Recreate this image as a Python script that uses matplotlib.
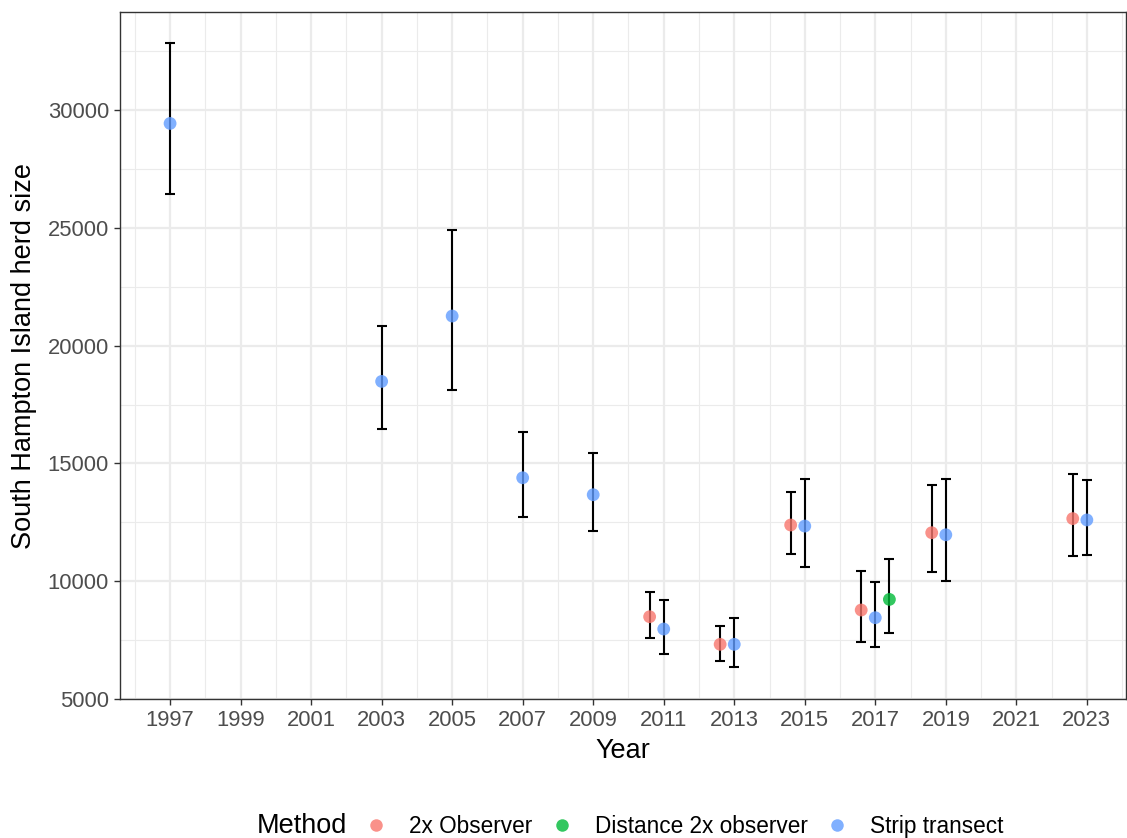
import matplotlib.pyplot as plt
import numpy as np
from matplotlib.lines import Line2D
from matplotlib.ticker import MultipleLocator

plt.rcParams['font.family'] = ['Liberation Sans', 'DejaVu Sans']

# Strip transect surveys
strip_years = [1997, 2003, 2005, 2007, 2009, 2011, 2013, 2015, 2017, 2019, 2023]
strip_est = [29430, 18480, 21255, 14390, 13670, 7970, 7320, 12340, 8450, 11970, 12600]
strip_low = [26420, 16446, 18127, 12711, 12117, 6897, 6358, 10615, 7220, 10008, 11111]
strip_high = [32829, 20818, 24917, 16344, 15453, 9202, 8438, 14350, 9952, 14337, 14282]

# 2x observer surveys
obs_years = [2011, 2013, 2015, 2017, 2019, 2023]
obs_est = [8493, 7321, 12385, 8777, 12058, 12657]
obs_low = [7576, 6625, 11167, 7406, 10390, 11082]
obs_high = [9528, 8098, 13773, 10445, 14069, 14536]

# Distance 2x observer
dist_years = [2017]
dist_est = [9227]
dist_low = [7788]
dist_high = [10942]

methods = ["2x Observer", "Distance 2x observer", "Strip transect"]
colors = {"2x Observer": "#F8766D", "Distance 2x observer": "#00BA38", "Strip transect": "#619CFF"}
dodge = {"2x Observer": -0.4, "Distance 2x observer": 0.4, "Strip transect": 0.0}

series = {
    "2x Observer": (obs_years, obs_est, obs_low, obs_high),
    "Distance 2x observer": (dist_years, dist_est, dist_low, dist_high),
    "Strip transect": (strip_years, strip_est, strip_low, strip_high),
}

W, H = 1127, 838
fig = plt.figure(figsize=(W / 100, H / 100), dpi=100)
ax = fig.add_axes([120 / W, 1 - 699 / H, (1126 - 120) / W, (699 - 12) / H])

for m in methods:
    yrs, est, lo, hi = series[m]
    x = np.array(yrs) + dodge[m]
    est = np.array(est)
    yerr = [est - np.array(lo), np.array(hi) - est]
    ax.errorbar(x, est, yerr=yerr, fmt='none', ecolor='black', elinewidth=1.5,
                capsize=3.4, capthick=1.5, zorder=3)
    ax.scatter(x, est, s=85, color=colors[m], alpha=0.8, edgecolors='none', zorder=4)

ax.set_xlim(1995.58, 2024.11)
ax.set_ylim(5000, 34160)
ax.set_xticks(np.arange(1997, 2024, 2))
ax.xaxis.set_minor_locator(MultipleLocator(1))
ax.set_yticks(np.arange(5000, 30001, 5000))
ax.yaxis.set_minor_locator(MultipleLocator(2500))

ax.grid(which='major', color='#EBEBEB', lw=1.6, zorder=0)
ax.grid(which='minor', color='#EBEBEB', lw=0.8, zorder=0)
ax.set_axisbelow(True)
ax.tick_params(which='minor', length=0)
ax.tick_params(which='major', length=4, width=1, color='#333333',
               labelsize=15.8, labelcolor='#4D4D4D', pad=4)
for s in ax.spines.values():
    s.set_color('#333333')
    s.set_linewidth(1)

ax.set_xlabel("Year", fontsize=19.5, labelpad=5)
ax.set_ylabel("South Hampton Island herd size", fontsize=19.5, labelpad=8)

# legend at bottom, title on the left
fig.text(257 / W, 1 - 826 / H, "Method", fontsize=19.5, va='center', ha='left')
handles = [Line2D([], [], marker='o', ls='none', markersize=9, color=colors[m],
                  alpha=0.8, markeredgewidth=0) for m in methods]
fig.legend(handles, methods, loc='center left', bbox_to_anchor=(364 / W, 1 - 826 / H),
           ncol=3, frameon=False, fontsize=16.3, handletextpad=0.9, columnspacing=0.75,
           handlelength=1.1, borderaxespad=0, borderpad=0)

fig.savefig("out.png", dpi=100)
